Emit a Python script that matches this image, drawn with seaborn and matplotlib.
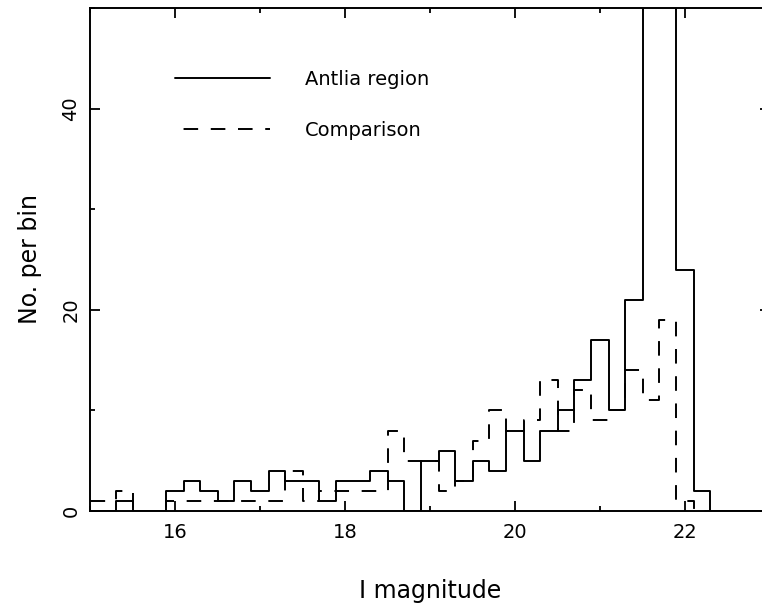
import matplotlib
matplotlib.use("Agg")
import matplotlib.pyplot as plt
from matplotlib.lines import Line2D
from matplotlib.ticker import MultipleLocator
import seaborn as sns
import pandas as pd

# 0.2 mag bins, edges from 14.9 to 22.9
bin_edges = [round(14.9 + 0.2 * i, 1) for i in range(41)]
bin_centres = [round(e + 0.1, 1) for e in bin_edges[:-1]]

# counts per bin (the two peak bins run off the top)
antlia_counts = [0, 0, 1, 0, 0, 2, 3, 2, 1, 3, 2, 4, 3, 3, 1, 3, 3, 4, 3, 0,
                 5, 6, 3, 5, 4, 8, 5, 8, 10, 13, 17, 10, 21, 62, 85, 24, 2, 0, 0, 0]
comparison_counts = [1, 1, 2, 0, 0, 1, 1, 1, 1, 1, 1, 1, 4, 1, 2, 2, 2, 2, 8, 5,
                     5, 2, 3, 7, 10, 8, 9, 13, 8, 12, 9, 10, 14, 11, 19, 1, 0, 0, 0, 0]

x_major = [16, 18, 20, 22]
y_major = [0, 20, 40]
series_labels = ['Antlia region', 'Comparison']

df = pd.DataFrame({'mag': bin_centres,
                   'antlia': antlia_counts,
                   'comparison': comparison_counts})

sns.set_style('ticks')
plt.rcParams['font.family'] = ['DejaVu Sans']
plt.rcParams['text.color'] = 'black'
plt.rcParams['axes.labelcolor'] = 'black'
plt.rcParams['xtick.color'] = 'black'
plt.rcParams['ytick.color'] = 'black'

fig = plt.figure(figsize=(7.62, 6.08), dpi=100)
# axes run slightly past the right edge of the picture, as in the original
ax = fig.add_axes([90 / 762, 97 / 608, 680 / 762, 503 / 608])

# offset so the first dash starts right at the left axis
dash = (9.6, (7.5, 6.5))
lw = 1.4

# comparison field (dashed)
sns.histplot(data=df, x='mag', weights='comparison', bins=bin_edges,
             element='step', fill=False, color='black', linewidth=lw,
             linestyle=dash, ax=ax)
# Antlia region (solid)
sns.histplot(data=df, x='mag', weights='antlia', bins=bin_edges,
             element='step', fill=False, color='black', linewidth=lw, ax=ax)

ax.set_xlim(15, 23)
ax.set_ylim(0, 50)
ax.set_xticks(x_major)
ax.set_yticks(y_major)
ax.xaxis.set_minor_locator(MultipleLocator(1))
ax.yaxis.set_minor_locator(MultipleLocator(10))
ax.tick_params(which='both', direction='in', top=True, right=True,
               width=1.3, color='black', labelsize=14)
ax.tick_params(which='major', length=7)
ax.tick_params(which='minor', length=3.5)
ax.tick_params(axis='x', pad=8.5)
ax.tick_params(axis='y', pad=7)
for lab in ax.get_yticklabels():
    lab.set_rotation(90)
    lab.set_va('center')
for sp in ax.spines.values():
    sp.set_linewidth(1.4)
    sp.set_color('black')

ax.set_xlabel('I magnitude', fontsize=17, labelpad=27)
ax.set_ylabel('No. per bin', fontsize=17, labelpad=14)

handles = [Line2D([], [], color='black', lw=lw),
           Line2D([], [], color='black', lw=lw, linestyle=dash)]
ax.legend(handles, series_labels, loc='upper left', bbox_to_anchor=(0.125, 0.877),
          frameon=False, fontsize=14, handlelength=4.9, handletextpad=1.8,
          labelspacing=1.65, borderpad=0, borderaxespad=0)

fig.savefig('out.png', dpi=100)
